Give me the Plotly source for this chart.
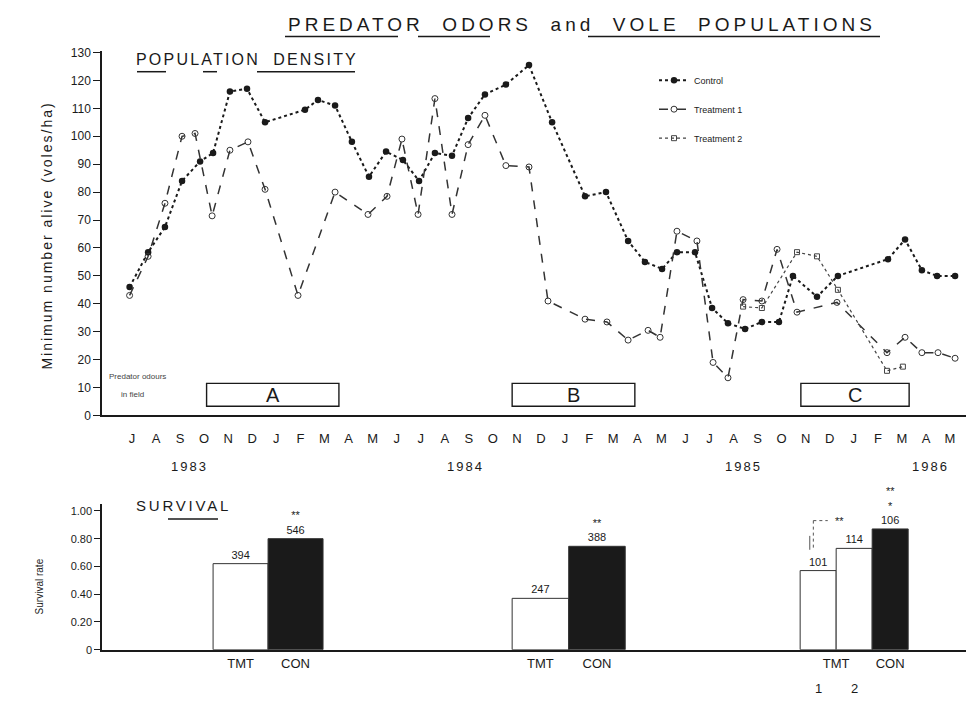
import plotly.graph_objects as go

W, H = 974, 711

# ---------------- data ----------------
MONTH_LETTERS = list("JASONDJFMAMJJASONDJFMAMJJASONDJFMAM")  # Jul 1983 ... May 1986
YEAR_TEXT = ["1983", "1984", "1985", "1986"]

# months since July 1983
CONTROL_MONTH = [-0.1, 0.67, 1.37, 2.08, 2.83, 3.37, 4.07, 4.78, 5.53, 7.19, 7.73, 8.44,
                 9.14, 9.85, 10.56, 11.26, 11.93, 12.59, 13.30, 13.97, 14.67, 15.54, 16.50,
                 17.46, 18.83, 19.70, 20.62, 21.32, 22.03, 22.65, 23.40, 24.11, 24.77,
                 25.48, 26.18, 26.89, 27.47, 28.47, 29.34, 31.42, 32.13, 32.83, 33.46, 34.21]
CONTROL_DENSITY = [46, 58.5, 67.5, 84, 91, 94, 116, 117, 105, 109.5, 113, 111,
                   98, 85.5, 94.5, 91.5, 84, 94, 93, 106.5, 115, 118.5, 125.5,
                   105, 78.5, 80, 62.5, 55, 52.5, 58.5, 58.5, 38.5, 33,
                   31, 33.5, 33.5, 50, 42.5, 50, 56, 63, 52, 50, 50]

TRT1_MONTH = [-0.1, 0.67, 1.37, 2.08, 2.62, 3.33, 4.07, 4.82, 5.53, 6.90, 8.44, 9.81,
              10.60, 11.22, 11.89, 12.59, 13.30, 13.97, 14.67, 15.54, 16.50, 17.29,
              18.83, 19.74, 20.62, 21.45, 21.95, 22.65, 23.48, 24.15, 24.77, 25.40,
              26.18, 26.81, 27.64, 29.30, 31.38, 32.13, 32.83, 33.50, 34.21]
TRT1_DENSITY = [43, 57, 76, 100, 101, 71.5, 95, 98, 81, 43, 80, 72,
                78.5, 99, 72, 113.5, 72, 97, 107.5, 89.5, 89, 41,
                34.5, 33.5, 27, 30.5, 28, 66, 62.5, 19, 13.5, 41.5,
                41, 59.5, 37, 40.5, 22.5, 28, 22.5, 22.5, 20.5]

TRT2_MONTH = [25.40, 26.18, 27.64, 28.47, 29.34, 31.38, 32.04]
TRT2_DENSITY = [39, 38.5, 58.5, 57, 45, 16, 17.5]

PERIOD_NAMES = ["A", "B", "C"]
PERIOD_START = [3.1, 15.8, 27.8]
PERIOD_END = [8.6, 20.9, 32.3]

SURV_PERIOD = ["A", "A", "B", "B", "C", "C", "C"]
SURV_GROUP = ["TMT", "CON", "TMT", "CON", "TMT 1", "TMT 2", "CON"]
SURV_RATE = [0.62, 0.80, 0.37, 0.745, 0.57, 0.73, 0.87]
SURV_N = [394, 546, 247, 388, 101, 114, 106]
SURV_SIG = ["", "**", "", "**", "", "", "**<br>*"]
SURV_START = [3.37, 15.8, 27.77]
SURV_END = [7.94, 20.5, 32.26]

# ---------------- layout helpers ----------------
FONT = "Liberation Sans, Arial, sans-serif"
INK = "#1a1a1a"
OFF_X = 8            # page offset of the figure inside the browser
OFF_Y = 14.6
SCALE_Y = 0.978
PX_PER_MONTH = 24.06
ZERO_PX = 132 - OFF_X
LEFT_PX = 102 - OFF_X
X_RANGE = [(LEFT_PX - ZERO_PX) / PX_PER_MONTH, (W - ZERO_PX) / PX_PER_MONTH]


def fx(p):
    return (p - OFF_X) / W


def fy(p):
    return 1 - (p - OFF_Y) / SCALE_Y / H


def spaced(text, s):
    return f'<span style="letter-spacing:{s}px">{text}</span>'


fig = go.Figure()

fig.add_trace(go.Scatter(
    x=CONTROL_MONTH, y=CONTROL_DENSITY, name="Control", mode="lines+markers",
    line=dict(color=INK, width=2, dash="dot"),
    marker=dict(symbol="circle", size=6.5, color=INK),
    legendgroup="c"))
fig.add_trace(go.Scatter(
    x=TRT1_MONTH, y=TRT1_DENSITY, name="Treatment 1", mode="lines+markers",
    line=dict(color="#333", width=1.5, dash="dash"),
    marker=dict(symbol="circle-open", size=6, color="#333"),
    legendgroup="t1"))
fig.add_trace(go.Scatter(
    x=TRT2_MONTH, y=TRT2_DENSITY, name="Treatment 2", mode="lines+markers",
    line=dict(color="#444", width=1.2, dash="dot"),
    marker=dict(symbol="square-open", size=5, color="#444"),
    legendgroup="t2"))

# survival bars, placed inside each survival interval
bar_x, bar_w, bar_fill = [], [], []
for name, s, e in zip(PERIOD_NAMES, SURV_START, SURV_END):
    idx = [i for i, p in enumerate(SURV_PERIOD) if p == name]
    w = (e - s) / len(idx)
    for k, i in enumerate(idx):
        bar_x.append(s + w * (k + 0.5))
        bar_w.append(w)
        bar_fill.append(INK if SURV_GROUP[i] == "CON" else "white")

bar_text = [(sig + "<br>" if sig else "") + str(n) for sig, n in zip(SURV_SIG, SURV_N)]
fig.add_trace(go.Bar(
    x=bar_x, y=SURV_RATE, width=bar_w, xaxis="x2", yaxis="y2",
    marker=dict(color=bar_fill, line=dict(color="#333", width=1)),
    text=bar_text, textposition="outside", cliponaxis=False,
    textfont=dict(family=FONT, size=11, color=INK), showlegend=False))

# bottom tick labels
tick_vals, tick_text, sub_labels = [], [], []
for name in PERIOD_NAMES:
    idx = [i for i, p in enumerate(SURV_PERIOD) if p == name]
    tmt = [i for i in idx if SURV_GROUP[i].startswith("TMT")]
    con = [i for i in idx if SURV_GROUP[i] == "CON"]
    if len(tmt) == 1:
        tick_vals.append(bar_x[tmt[0]])
    else:
        tick_vals.append((bar_x[tmt[0]] + bar_x[tmt[-1]]) / 2)
        for i in tmt:
            sub_labels.append((bar_x[i], SURV_GROUP[i].split()[-1]))
    tick_text.append("TMT")
    tick_vals.append(bar_x[con[0]])
    tick_text.append("CON")

axis_common = dict(showgrid=False, zeroline=False, showline=True, linecolor=INK,
                   tickcolor=INK)

fig.update_layout(
    width=W, height=H, margin=dict(l=0, r=0, t=0, b=0, pad=0),
    paper_bgcolor="white", plot_bgcolor="white",
    font=dict(family=FONT, color=INK),
    xaxis=dict(domain=[LEFT_PX / W, 1], range=X_RANGE, anchor="y",
               tickmode="array", tickvals=list(range(len(MONTH_LETTERS))),
               ticktext=MONTH_LETTERS, ticks="", ticklabelstandoff=10, linewidth=2,
               tickfont=dict(family=FONT, size=13, color=INK), **axis_common),
    yaxis=dict(domain=[fy(415), fy(52.5)], range=[0, 130.5], anchor="x",
               tickmode="array", tickvals=list(range(0, 131, 10)),
               ticks="outside", ticklen=7, linewidth=1.5,
               tickfont=dict(family=FONT, size=12, color=INK), **axis_common),
    xaxis2=dict(domain=[LEFT_PX / W, 1], range=X_RANGE, anchor="y2",
                tickmode="array", tickvals=tick_vals, ticktext=tick_text,
                ticks="", ticklabelstandoff=1, linewidth=2,
                tickfont=dict(family=FONT, size=13, color=INK), **axis_common),
    yaxis2=dict(domain=[fy(648), fy(503)], range=[0, 1.05], anchor="x2",
                tickmode="array", tickvals=[0, 0.2, 0.4, 0.6, 0.8, 1.0],
                ticktext=["0", "0.20", "0.40", "0.60", "0.80", "1.00"],
                ticks="outside", ticklen=6, linewidth=1.5,
                tickfont=dict(family=FONT, size=11, color=INK), **axis_common),
    legend=dict(x=fx(654), y=fy(67), xanchor="left", yanchor="top",
                font=dict(family=FONT, size=9, color=INK), bgcolor="rgba(0,0,0,0)",
                traceorder="grouped", tracegroupgap=10, itemwidth=30),
    showlegend=True,
)

ann = []


def label(text, x, y, size, xanchor="center", angle=0, color=INK):
    ann.append(dict(text=text, x=fx(x), y=fy(y), xref="paper", yref="paper",
                    xanchor=xanchor, yanchor="middle", showarrow=False, textangle=angle,
                    font=dict(family=FONT, size=size, color=color)))


NB = "&nbsp;"
label(spaced(f"PREDATOR{NB}{NB}ODORS{NB}{NB}and{NB}{NB}VOLE{NB}{NB}POPULATIONS", 4.0), 582, 26, 19)
label(spaced(f"POPULATION{NB}{NB}DENSITY", 2.2), 134, 61, 16, xanchor="left")
label(spaced("SURVIVAL", 2.8), 134, 505, 15, xanchor="left")
label(spaced("Minimum number alive (voles/ha)", 2.0), 47, 236, 14, angle=-90)
label("Survival rate", 39, 585, 10, angle=-90)
label("Predator odours", 107, 376, 8, xanchor="left", color="#444")
label("in field", 119, 394, 8, xanchor="left", color="#444")

# years under the month letters
YEAR_POS = [2.4, 13.85, 25.4, 33.2]
for t, m in zip(YEAR_TEXT, YEAR_POS):
    ann.append(dict(text=spaced(t, 2), x=m, y=fy(466), xref="x", yref="paper",
                    yanchor="middle", showarrow=False,
                    font=dict(family=FONT, size=13, color=INK)))

# predator-odour periods
shapes = []
for name, s, e in zip(PERIOD_NAMES, PERIOD_START, PERIOD_END):
    shapes.append(dict(type="rect", xref="x", yref="y", x0=s, x1=e, y0=3.3, y1=11.5,
                       line=dict(color=INK, width=1.4)))
    ann.append(dict(text=name, x=(s + e) / 2, y=7.2, xref="x", yref="y", showarrow=False,
                    yanchor="middle", font=dict(family=FONT, size=20, color=INK)))

# sub labels 1, 2 under the two TMT bars of period C
for xv, t in sub_labels:
    ann.append(dict(text=t, x=xv, y=fy(687), xref="x2", yref="paper", showarrow=False,
                    yanchor="middle", font=dict(family=FONT, size=13, color=INK)))

# significance bracket in period C
ci = [i for i, p in enumerate(SURV_PERIOD) if p == "C"]
t1, t2, cc = ci
left1 = bar_x[t1] - bar_w[t1] / 2
ann.append(dict(text="**", x=bar_x[t1] + bar_w[t1] / 2 + 0.15, y=0.93, xref="x2", yref="y2",
                yanchor="middle", showarrow=False, font=dict(family=FONT, size=11, color=INK)))
shapes.append(dict(type="line", xref="x2", yref="y2", x0=bar_x[t1] - 0.2, x1=bar_x[t1] + 0.4,
                   y0=0.93, y1=0.93, line=dict(color="#555", width=1, dash="dot")))
shapes.append(dict(type="line", xref="x2", yref="y2", x0=bar_x[t1] - 0.2, x1=bar_x[t1] - 0.2,
                   y0=0.93, y1=0.72, line=dict(color="#555", width=1, dash="dot")))
shapes.append(dict(type="line", xref="x2", yref="y2", x0=left1 + 0.4, x1=left1 + 0.4,
                   y0=0.82, y1=0.72, line=dict(color="#555", width=1)))
shapes.append(dict(type="line", xref="x2", yref="y2", x0=bar_x[t2] - 0.2, x1=bar_x[t2] + 0.5,
                   y0=1.06, y1=1.06, line=dict(color="#777", width=1)))

# underlines of the hand-lettered headings
for x0, x1, yv in [(285, 398, 38), (418, 490, 38), (588, 880, 38),
                   (137, 166, 73), (203, 217, 73), (257, 355, 73), (168, 218, 518)]:
    shapes.append(dict(type="line", xref="paper", yref="paper", x0=fx(x0), x1=fx(x1),
                       y0=fy(yv), y1=fy(yv), line=dict(color=INK, width=1.5)))

fig.update_layout(annotations=ann, shapes=shapes)

fig.write_html("out.html")
